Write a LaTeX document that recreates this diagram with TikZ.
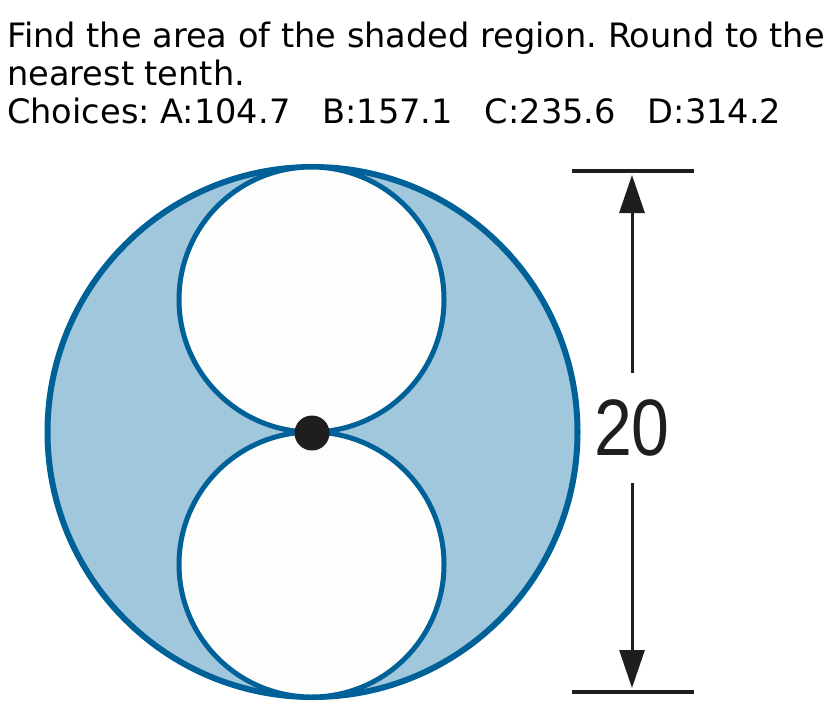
\documentclass[tikz,border=0pt]{standalone}
\usepackage{fontspec}
\setmainfont{DejaVu Sans}
\newfontfamily\numfont{Liberation Sans}
\usetikzlibrary{arrows.meta}
\definecolor{rimblue}{RGB}{0,96,152}
\definecolor{shadeblue}{RGB}{160,199,220}
\definecolor{dimgray}{RGB}{30,30,30}
\definecolor{holewhite}{RGB}{253,254,251}
\frenchspacing
\begin{document}
\begin{tikzpicture}[x=1pt,y=-1pt,
  qtext/.style={anchor=base west,inner sep=0pt,font=\fontsize{33.6}{38}\selectfont},
  bigcirc/.style={circle,draw=rimblue,line width=6pt,fill=shadeblue,inner sep=0pt,minimum size=530pt},
  hole/.style={circle,draw=rimblue,line width=5pt,fill=holewhite,inner sep=0pt,minimum size=265pt},
  centerdot/.style={circle,fill=dimgray,inner sep=0pt,minimum size=35pt},
  extline/.style={draw=dimgray,line width=4pt},
  dimarrow/.style={draw=dimgray,line width=3pt,-{Triangle[length=38pt,width=25pt]}},
  dimlabel/.style={inner sep=0pt,minimum height=110pt,font=\fontsize{80}{80}\selectfont\numfont,text=dimgray}]
\useasboundingbox (0,0) rectangle (833,718);
\node[qtext] (q1) at (7,47) {Find the area of the shaded region. Round to the};
\node[qtext] (q2) at (7,85) {nearest tenth.};
\node[qtext] (q3) at (7,123) {Choices: A:104.7~~~B:157.1~~~C:235.6~~~D:314.2};
\node[bigcirc] (outer) at (312.5,432) {};
\node[hole] (top) at (311.5,299.5) {};
\node[hole] (bot) at (311.5,564.5) {};
\node[centerdot] (ctr) at (312,433) {};
\coordinate (tl) at (572,170.5);
\coordinate (tr) at (694,170.5);
\coordinate (bl) at (572,692);
\coordinate (br) at (694,692);
\coordinate (ttip) at (632,175);
\coordinate (btip) at (632,688);
\draw[extline] (tl) -- (tr);
\draw[extline] (bl) -- (br);
\node[dimlabel] (len) at (632,428) {\scalebox{0.85}[1]{20}};
\draw[dimarrow] (len.north) -- (ttip);
\draw[dimarrow] (len.south) -- (btip);
\end{tikzpicture}
\end{document}
